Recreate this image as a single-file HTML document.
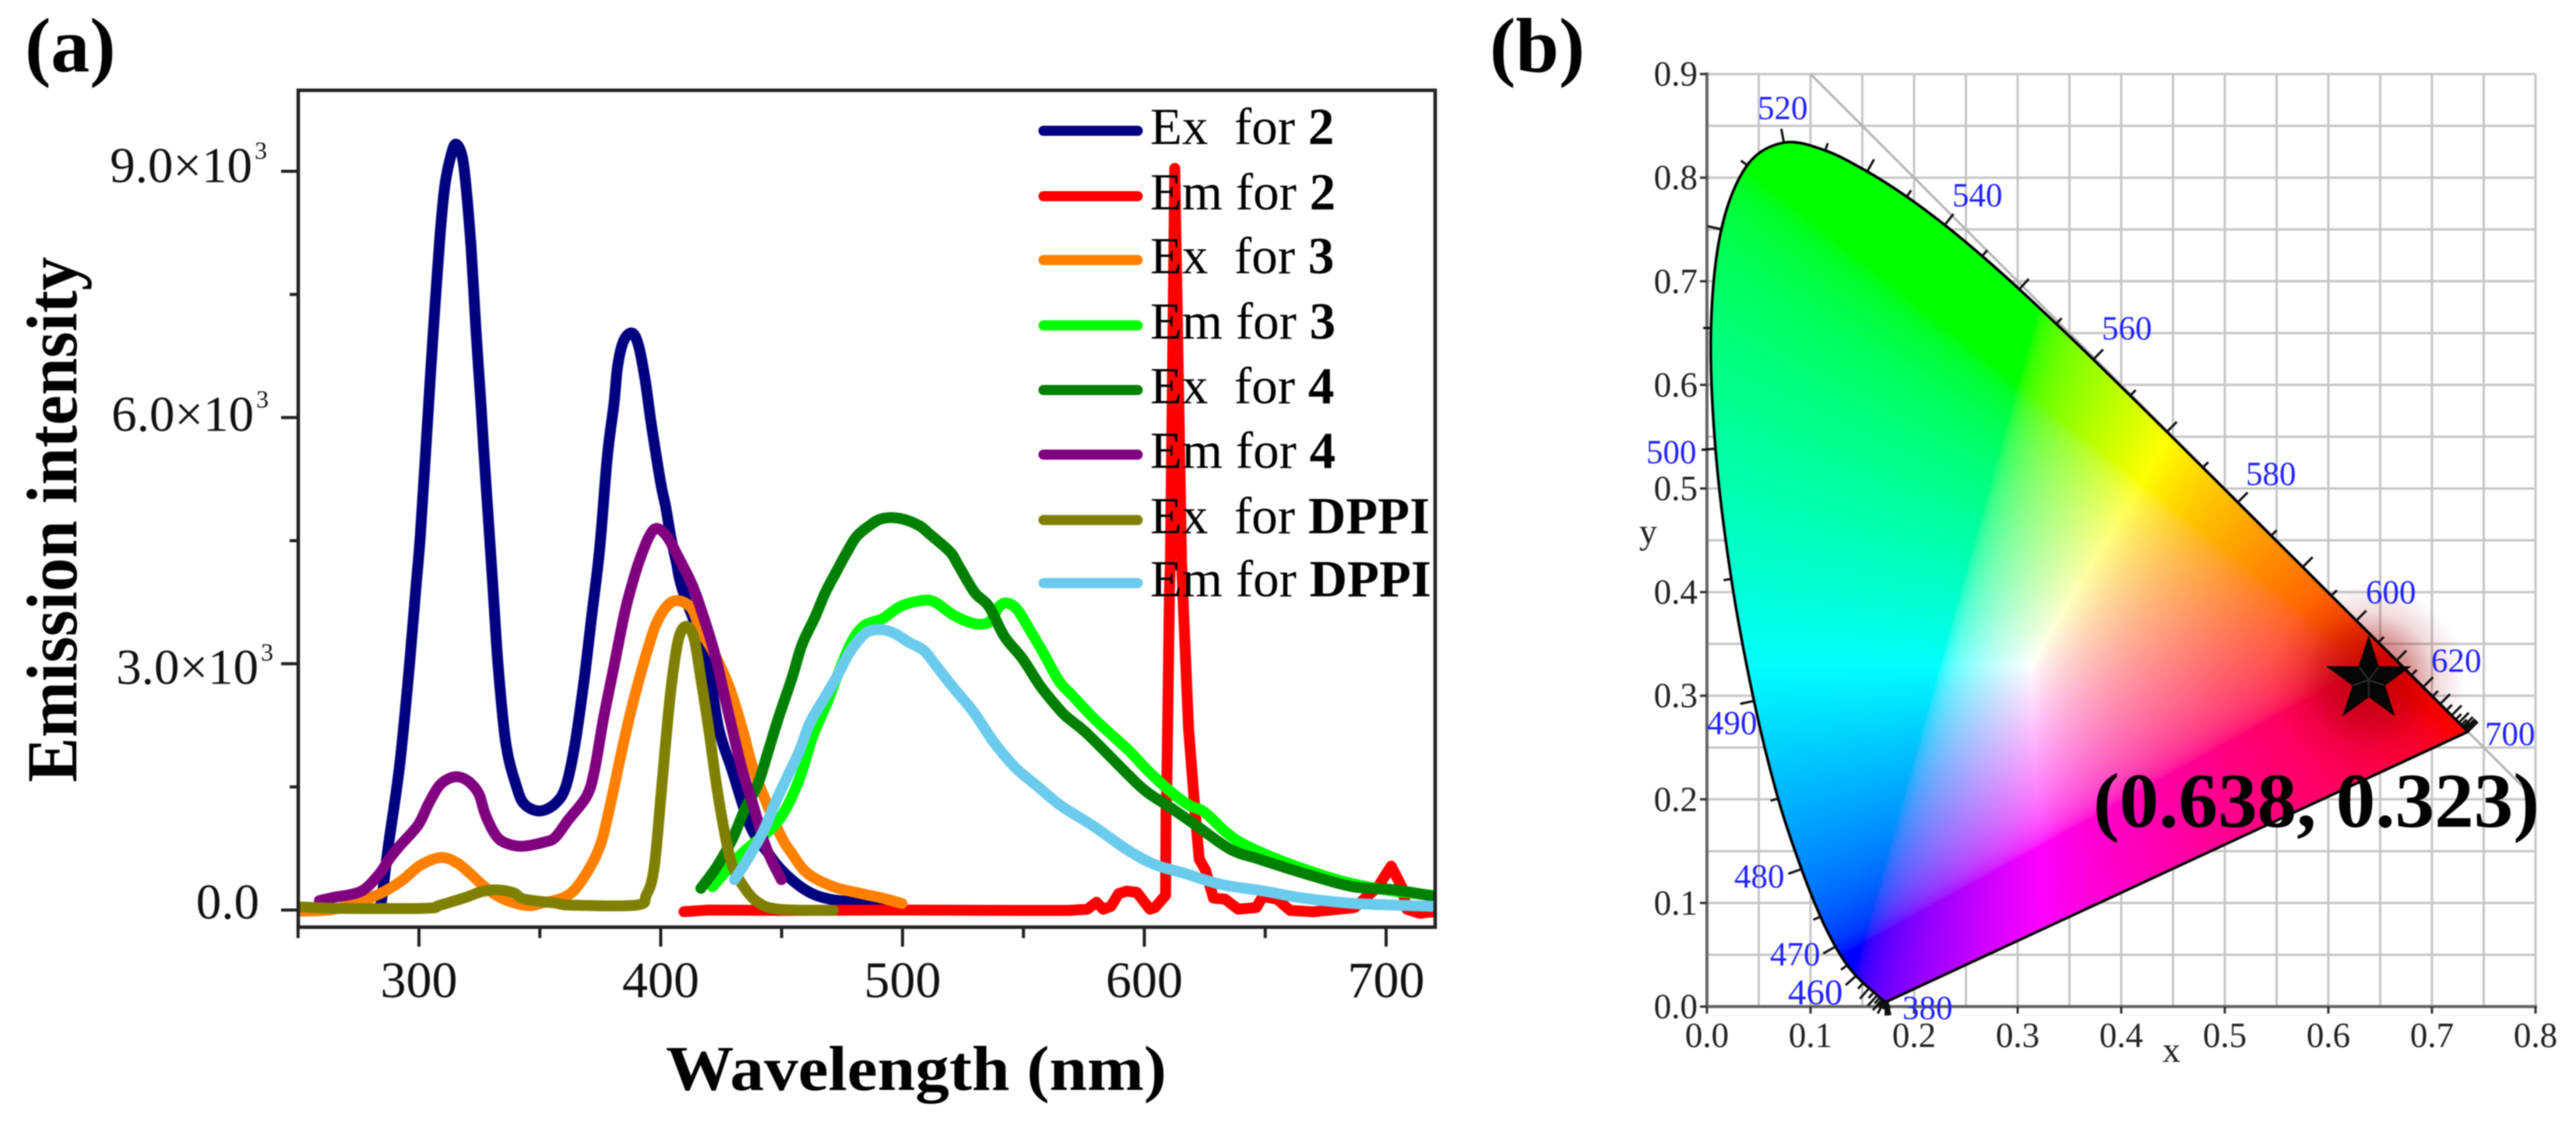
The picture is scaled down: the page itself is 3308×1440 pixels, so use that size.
<!DOCTYPE html>
<html lang="en">
<head>
<meta charset="utf-8">
<title>Excitation and emission spectra with CIE chromaticity diagram</title>
<style>
html,body{margin:0;padding:0;background:#fff;width:3308px;height:1440px;overflow:hidden}
#stage{position:relative;width:3308px;height:1440px;filter:blur(.7px)}
#stage svg,#stage canvas{position:absolute}
text{font-family:"Liberation Serif",serif;white-space:pre}
</style>
</head>
<body>
<div id="stage">
<svg id="panelA" width="3308" height="1440" viewBox="0 0 3308 1440" style="left:0;top:0">
  <defs><clipPath id="plotClip"><rect x="383" y="116" width="1460" height="1075"/></clipPath></defs>
  <text x="32" y="92" font-size="100" font-weight="bold">(a)</text>
  <g id="seriesLayer" clip-path="url(#plotClip)"></g>
  <rect x="383" y="116" width="1460" height="1075" fill="none" stroke="#222" stroke-width="4.5"/>
  <g id="axisA"></g>
  <text transform="translate(98,1005) rotate(-90)" font-size="92" font-weight="bold" textLength="675" lengthAdjust="spacingAndGlyphs">Emission intensity</text>
  <text x="855" y="1400" font-size="82" font-weight="bold" textLength="643" lengthAdjust="spacingAndGlyphs">Wavelength (nm)</text>
  <g font-size="67" fill="#000" stroke-linecap="round">
    <g><line x1="1340" x2="1461" y1="168" y2="168" stroke="#000080" stroke-width="13"/><text x="1477" y="185">Ex  for <tspan font-weight="bold">2</tspan></text></g>
    <g><line x1="1340" x2="1461" y1="252" y2="252" stroke="#ff0000" stroke-width="13"/><text x="1477" y="269">Em for <tspan font-weight="bold">2</tspan></text></g>
    <g><line x1="1340" x2="1461" y1="334" y2="334" stroke="#ff8000" stroke-width="13"/><text x="1477" y="351">Ex  for <tspan font-weight="bold">3</tspan></text></g>
    <g><line x1="1340" x2="1461" y1="418" y2="418" stroke="#00ff00" stroke-width="13"/><text x="1477" y="435">Em for <tspan font-weight="bold">3</tspan></text></g>
    <g><line x1="1340" x2="1461" y1="501" y2="501" stroke="#008000" stroke-width="13"/><text x="1477" y="518">Ex  for <tspan font-weight="bold">4</tspan></text></g>
    <g><line x1="1340" x2="1461" y1="584" y2="584" stroke="#800080" stroke-width="13"/><text x="1477" y="601">Em for <tspan font-weight="bold">4</tspan></text></g>
    <g><line x1="1340" x2="1461" y1="668" y2="668" stroke="#808000" stroke-width="13"/><text x="1477" y="685">Ex  for <tspan font-weight="bold">DPPI</tspan></text></g>
    <g><line x1="1340" x2="1461" y1="749" y2="749" stroke="#6acbec" stroke-width="13"/><text x="1477" y="766">Em for <tspan font-weight="bold">DPPI</tspan></text></g>
  </g>
  <text x="1913" y="92" font-size="100" font-weight="bold">(b)</text>
  <g id="gridB"></g>
  <text x="2777" y="1364" font-size="46" fill="#222">x</text>
  <text x="2105" y="698" font-size="46" fill="#222">y</text>
</svg>
<canvas id="gamut" width="1064" height="1199" style="left:2192px;top:94px"></canvas>
<svg id="panelB" width="3308" height="1440" viewBox="0 0 3308 1440" style="left:0;top:0">
  <defs>
    <radialGradient id="haloGrad">
      <stop offset="0" stop-color="#a00000" stop-opacity=".7"/>
      <stop offset=".45" stop-color="#a00000" stop-opacity=".4"/>
      <stop offset=".7" stop-color="#a00000" stop-opacity=".14"/>
      <stop offset="1" stop-color="#a00000" stop-opacity="0"/>
    </radialGradient>
  </defs>
  <g id="overlayB"></g>
  <g font-size="43" fill="#2222ff">
    <text x="2443" y="1309">380</text>
    <text x="2296" y="1290" font-size="47">460</text>
    <text x="2273" y="1240">470</text>
    <text x="2227" y="1140">480</text>
    <text x="2192" y="943">490</text>
    <text x="2114" y="595">500</text>
    <text x="2257" y="153">520</text>
    <text x="2507" y="265">540</text>
    <text x="2699" y="436">560</text>
    <text x="2884" y="623">580</text>
    <text x="3038" y="775">600</text>
    <text x="3122" y="863">620</text>
    <text x="3191" y="957">700</text>
  </g>
  <text x="2688" y="1062" font-size="100" font-weight="bold" textLength="573" lengthAdjust="spacingAndGlyphs">(0.638, 0.323)</text>
</svg>
</div>
<script>
/* ---------- Panel (a) data: wavelength (nm) and intensity ---------- */
const ex2Wave=[283,284.5,287.2,292,296,298.7,300.5,303,305.7,308.7,310.8,313.5,315.4,317.8,319.4,321.6,323.5,325.3,327,328.6,330.5,332.8,336,340.3,343.6,350,356.5,360.8,364.5,368.3,371.5,374.7,377.9,380.6,382.2,384.6,388.1,390.8,393.5,396.2,400,402,404.2,406.4,409,418.7,424,429.5,437,444.5,451,460.6,470.3,483,500];
const ex2Int=[20,115,750,1760,2960,3910,4540,5680,6945,8210,8840,9220,9330,9190,8840,8050,7100,6310,5520,4810,3975,2960,2015,1510,1290,1207,1300,1510,2015,2800,3595,4385,5520,6155,6630,6930,7030,6880,6470,5900,5200,4920,4540,4245,3905,3090,2210,1705,1025,690,455,230,130,95,30];
const em2Wave=[409.6,420,450,500,550,569,576.5,580.2,583,586.2,589.4,592.7,596.9,602.3,604.4,608.8,609,609.3,609.8,610.4,610.8,612.6,615.4,616.8,618.3,621,622.7,625.3,628.6,633.4,638.8,646.3,649,654.9,660.3,669.9,687,696.7,702.1,706.4,708.6,713.9,720];
const em2Int=[-20,0,-5,0,-5,-5,10,95,10,45,200,230,215,10,30,180,1195,1535,2550,3905,4240,9035,4240,3230,2212,1195,620,485,145,133,10,30,165,133,-5,-22,30,285,535,285,10,-40,-20];
const ex3Wave=[250,265,281.3,292,300.6,309.2,315.7,321,327.5,335,344.7,351,360.8,367.2,374.5,378.7,383.3,387.4,391.9,395.7,398.3,402.6,407,412.8,416.6,422,428.3,433.7,438,443.4,449.9,454.2,460.6,471.3,483,491.7,499.8];
const ex3Int=[-15,10,165,340,545,640,575,450,275,133,55,85,165,355,750,1225,1855,2393,2900,3280,3500,3705,3770,3675,3400,3130,2720,2212,1740,1330,890,690,450,285,200,145,80];
const em3Wave=[421.4,433.7,444.5,451,457.4,462.8,468.2,473.5,478.9,484.2,491.7,499.2,507.8,513.2,520.7,528.3,533.6,536.8,540,543.3,547.6,552.9,558.3,564.7,570,579.8,593.7,601.2,609.8,618.3,624.8,633.4,640.9,654.9,671,684.9,703.2,720];
const em3Int=[285,690,960,1195,1603,2110,2485,2890,3263,3465,3550,3700,3770,3755,3600,3500,3485,3535,3700,3740,3655,3400,3130,2790,2620,2315,1940,1705,1470,1280,1195,958,805,620,450,330,230,180];
const ex4Wave=[416.6,423,429.5,434.8,440.2,444.5,448.8,454.2,458.4,463.8,468.1,472.4,476.7,481,486.4,491.7,499.2,506.8,511,519.6,522.9,529.8,535.7,542.2,549.7,557.2,564.7,568,576.5,593.7,601.2,610.9,621.6,635.6,647.4,665.7,686,703.2,720];
const ex4Int=[265,520,857,1230,1535,1940,2350,2820,3230,3570,3870,4110,4345,4550,4685,4770,4770,4685,4585,4365,4210,3870,3700,3330,3060,2720,2450,2350,2145,1637,1435,1247,1027,740,620,450,285,247,165];
const em4Wave=[258.8,264,276,283.5,287.8,292,299.6,303.9,308.2,312.5,316.7,321,324.8,327.5,331.8,336,342.5,352.2,356.5,361.8,369.3,372.6,376.3,380.6,384.9,387.6,390.8,395,398.3,402.6,407,412.8,416.6,422,426.3,429.5,433.7,438,442.4,445.6,449.9];
const em4Int=[115,150,228,436,626,780,1034,1290,1508,1603,1620,1555,1413,1160,910,815,777,830,890,1100,1385,1700,2330,2960,3595,3910,4225,4540,4650,4550,4315,3975,3670,3160,2617,2212,1707,1300,857,620,370];
const exDppiWave=[250,267,302.8,308.2,318.9,326.4,332.9,339.3,343.6,356.5,362.9,389.8,394,397.3,400.5,403.7,406.4,408.5,411.2,413.9,416.6,419.8,423,426.3,429.5,434.3,440.2,448.8,471.3];
const exDppiInt=[40,20,22,55,150,228,245,208,133,85,60,60,180,520,1535,2550,3160,3400,3450,3297,2820,2212,1535,960,552,285,95,10,-5];
const emDppiWave=[430.5,435.9,442.4,447.7,453.1,457.4,461.7,467,472.4,477.8,483.1,486.4,491.7,497.1,502.5,508.9,514.3,520.7,529.3,537.9,546.5,556.1,565.8,578.7,593.7,604.4,616.3,631.3,649.6,665.7,687.1,720];
const emDppiInt=[370,620,960,1330,1670,1940,2280,2550,2820,3125,3330,3400,3415,3365,3263,3160,2960,2720,2415,2040,1740,1500,1265,1027,720,552,450,315,230,145,80,45];
const xTickValues=[300,400,500,600,700];
const xMinorValues=[250,350,450,550,650];
const yTickValues=[0,3000,6000,9000];
const yMinorValues=[1500,4500,7500];
const yTickLabels=["0.0","3.0×10","6.0×10","9.0×10"];

/* ---------- Panel (b) data: CIE 1931 spectral locus ---------- */
const locusWave=[380,385,390,395,400,405,410,415,420,425,430,435,440,445,450,455,460,465,470,475,480,485,490,495,500,505,510,515,520,525,530,535,540,545,550,555,560,565,570,575,580,585,590,595,600,605,610,615,620,625,630,635,640,645,650,655,660,665,670,675,680,685,690,695,700];
const locusX=[.1741,.1740,.1738,.1736,.1733,.1730,.1726,.1721,.1714,.1703,.1689,.1669,.1644,.1611,.1566,.1510,.1440,.1355,.1241,.1096,.0913,.0687,.0454,.0235,.0082,.0039,.0139,.0389,.0743,.1142,.1547,.1929,.2296,.2658,.3016,.3373,.3731,.4087,.4441,.4788,.5125,.5448,.5752,.6029,.6270,.6482,.6658,.6801,.6915,.7006,.7079,.7140,.7190,.7230,.7260,.7283,.7300,.7311,.7320,.7327,.7334,.7340,.7344,.7346,.7347];
const locusY=[.0050,.0050,.0049,.0049,.0048,.0048,.0048,.0048,.0051,.0058,.0069,.0086,.0109,.0138,.0177,.0227,.0297,.0399,.0578,.0868,.1327,.2007,.2950,.4127,.5384,.6548,.7502,.8120,.8338,.8262,.8059,.7816,.7543,.7243,.6923,.6589,.6245,.5896,.5547,.5202,.4866,.4544,.4242,.3965,.3725,.3514,.3340,.3197,.3083,.2993,.2920,.2859,.2809,.2770,.2740,.2717,.2700,.2689,.2680,.2673,.2666,.2660,.2656,.2654,.2653];
const bXTicks=["0.0","0.1","0.2","0.3","0.4","0.5","0.6","0.7","0.8"];
const bYTicks=["0.0","0.1","0.2","0.3","0.4","0.5","0.6","0.7","0.8","0.9"];
const starX=[0.639];
const starY=[0.315];

/* ---------- Axis functions ---------- */
const NS='http://www.w3.org/2000/svg';
function xA(w){return 538+(w-300)*3.105}
function yA(v){return 1169-v*0.10544}
function xB(x){return 2192+x*1330}
function yB(y){return 1293-y*1331}
function mk(tag,attrs,parent){const e=document.createElementNS(NS,tag);for(const k in attrs)e.setAttribute(k,attrs[k]);parent.appendChild(e);return e}

function smoothPath(pts){
  let d='M'+pts[0][0].toFixed(1)+' '+pts[0][1].toFixed(1);
  for(let i=0;i<pts.length-1;i++){
    const p0=pts[Math.max(i-1,0)],p1=pts[i],p2=pts[i+1],p3=pts[Math.min(i+2,pts.length-1)];
    const c1=[p1[0]+(p2[0]-p0[0])/6,p1[1]+(p2[1]-p0[1])/6];
    const c2=[p2[0]-(p3[0]-p1[0])/6,p2[1]-(p3[1]-p1[1])/6];
    d+='C'+c1[0].toFixed(1)+' '+c1[1].toFixed(1)+' '+c2[0].toFixed(1)+' '+c2[1].toFixed(1)+' '+p2[0].toFixed(1)+' '+p2[1].toFixed(1);
  }
  return d;
}
function linearPath(pts){return 'M'+pts.map(p=>p[0].toFixed(1)+' '+p[1].toFixed(1)).join('L')}

/* ---------- Panel (a) drawing ---------- */
function drawSeries(name,wave,intensity,color,smooth){
  const pts=wave.map((w,i)=>[xA(w),yA(intensity[i])]);
  const line=mk('path',{d:smooth?smoothPath(pts):linearPath(pts),fill:'none',stroke:color,'stroke-width':14,'stroke-linejoin':'round','stroke-linecap':'round'},document.getElementById('seriesLayer'));
  
  
}
drawSeries('line-ex-2',ex2Wave,ex2Int,'#000080',true);
drawSeries('line-em-2',em2Wave,em2Int,'#ff0000',false);
drawSeries('line-ex-3',ex3Wave,ex3Int,'#ff8000',true);
drawSeries('line-em-3',em3Wave,em3Int,'#00ff00',true);
drawSeries('line-ex-4',ex4Wave,ex4Int,'#008000',true);
drawSeries('line-em-4',em4Wave,em4Int,'#800080',true);
drawSeries('line-ex-dppi',exDppiWave,exDppiInt,'#808000',true);
drawSeries('line-em-dppi',emDppiWave,emDppiInt,'#6acbec',true);

const axisA=document.getElementById('axisA');
xTickValues.forEach(w=>{
  const t=mk('line',{x1:xA(w),x2:xA(w),y1:1191,y2:1216,stroke:'#222','stroke-width':4},axisA);
  
  
  const l=mk('text',{x:xA(w),y:1281,'font-size':66,'text-anchor':'middle',fill:'#111'},axisA);
  l.textContent=String(w);
  
  
});
xMinorValues.forEach(w=>{
  const t=mk('line',{x1:xA(w),x2:xA(w),y1:1191,y2:1205,stroke:'#222','stroke-width':4},axisA);
  
  
});
const yNudgeBase=[11,26,17,14];
const yNudgeEnd=[333,332,326,324];
yTickValues.forEach((v,i)=>{
  const t=mk('line',{x1:361,x2:383,y1:yA(v),y2:yA(v),stroke:'#222','stroke-width':4},axisA);
  
  
  const l=mk('text',{x:yNudgeEnd[i],y:yA(v)+yNudgeBase[i],'font-size':65,'text-anchor':'end',fill:'#111'},axisA);
  l.textContent=yTickLabels[i];
  
  
  if(i>0){
    const s=mk('text',{x:yNudgeEnd[i]+3,y:yA(v)+yNudgeBase[i]-30,'font-size':32,fill:'#111'},axisA);
    s.textContent='3';
    
    
  }
});
yMinorValues.forEach(v=>{
  const t=mk('line',{x1:372,x2:383,y1:yA(v),y2:yA(v),stroke:'#222','stroke-width':4},axisA);
  
  
});

/* ---------- Panel (b) grid and axes ---------- */
const gridB=document.getElementById('gridB');
for(let i=1;i<=16;i++){
  const g=mk('line',{x1:xB(i*0.05),x2:xB(i*0.05),y1:yB(0),y2:yB(0.9),stroke:'#c6c6c6','stroke-width':3},gridB);
  
  
}
for(let i=1;i<=18;i++){
  const g=mk('line',{x1:xB(0),x2:xB(0.8),y1:yB(i*0.05),y2:yB(i*0.05),stroke:'#c6c6c6','stroke-width':3},gridB);
  
  
}
const diag=mk('line',{x1:xB(0.1),y1:yB(0.9),x2:xB(0.794),y2:yB(0.206),stroke:'#b4b4b4','stroke-width':3},gridB);


const axLeft=mk('line',{x1:xB(0),x2:xB(0),y1:yB(0.9)-2,y2:yB(0)+2,stroke:'#666','stroke-width':4},gridB);


const axBottom=mk('line',{x1:xB(0)-2,x2:xB(0.8)+2,y1:yB(0),y2:yB(0),stroke:'#666','stroke-width':4},gridB);


bXTicks.forEach(s=>{
  const v=parseFloat(s);
  const t=mk('line',{x1:xB(v),x2:xB(v),y1:yB(0),y2:yB(0)+9,stroke:'#333','stroke-width':3},gridB);
  
  
  const l=mk('text',{x:xB(v),y:1345,'font-size':45,'text-anchor':'middle',fill:'#222'},gridB);
  l.textContent=s;
  
  
});
bYTicks.forEach(s=>{
  const v=parseFloat(s);
  const t=mk('line',{x1:xB(0)-9,x2:xB(0),y1:yB(v),y2:yB(v),stroke:'#333','stroke-width':3},gridB);
  
  
  const l=mk('text',{x:2180,y:yB(v)+15,'font-size':45,'text-anchor':'end',fill:'#222'},gridB);
  l.textContent=s;
  
  
});

/* ---------- Smooth locus outline, shared by the gamut clip and the stroke ---------- */
const locusPath=smoothPath(locusWave.map((w,i)=>[xB(locusX[i]),yB(locusY[i])]))+'Z';

/* ---------- Gamut fill: xy -> linear sRGB, clipped and normalised ---------- */
(function(){
  const cv=document.getElementById('gamut'),ctx=cv.getContext('2d');
  const W=cv.width,H=cv.height,off=document.createElement('canvas');
  off.width=W;off.height=H;
  const oc=off.getContext('2d'),img=oc.createImageData(W,H),d=img.data;
  const gam=c=>c<=0.0031308?12.92*c:1.055*Math.pow(c,1/2.4)-0.055;
  for(let py=0;py<H;py++){
    const y=Math.max((yB(0)-(94+py+0.5))/1331,0.001);
    for(let px=0;px<W;px++){
      const x=(px+0.5)/1330,X=x/y,Z=(1-x-y)/y;
      let r=3.2406*X-1.5372-0.4986*Z,g=-0.9689*X+1.8758+0.0415*Z,b=0.0557*X-0.2040+1.0570*Z;
      r=Math.max(r,0);g=Math.max(g,0);b=Math.max(b,0);
      const m=Math.max(r,g,b,1e-6),i=(py*W+px)*4;
      d[i]=255*gam(r/m);d[i+1]=255*gam(g/m);d[i+2]=255*gam(b/m);d[i+3]=255;
    }
  }
  oc.putImageData(img,0,0);
  ctx.save();
  ctx.translate(-2192,-94);
  ctx.clip(new Path2D(locusPath));
  ctx.translate(2192,94);
  ctx.drawImage(off,0,0);
  ctx.restore();
})();

/* ---------- Locus outline, wavelength ticks, marker ---------- */
const overlay=document.getElementById('overlayB');
const sx=xB(starX[0]),sy=yB(starY[0]);
const halo=mk('circle',{cx:sx,cy:sy,r:125,fill:'url(#haloGrad)'},overlay);


const locusLine=mk('path',{d:locusPath,fill:'none',stroke:'#000','stroke-width':3.5,'stroke-linejoin':'round'},overlay);


locusWave.forEach((w,i)=>{
  const a=Math.max(i-1,0),b=Math.min(i+1,locusWave.length-1);
  let tx=xB(locusX[b])-xB(locusX[a]),ty=yB(locusY[b])-yB(locusY[a]);
  const n=Math.hypot(tx,ty)||1;tx/=n;ty/=n;
  let nx=ty,ny=-tx;
  const px=xB(locusX[i]),py=yB(locusY[i]);
  if(nx*(px-xB(0.33))+ny*(py-yB(0.33))<0){nx=-nx;ny=-ny}
  const len=(w%10===0)?18:10;
  const t=mk('line',{x1:px,y1:py,x2:px+nx*len,y2:py+ny*len,stroke:'#111','stroke-width':3},overlay);
  
  
});
(function(){
  const R=56,pts=[],inner=[];
  for(let k=0;k<10;k++){
    const r=k%2?R*0.38:R,ang=-Math.PI/2+k*Math.PI/5,p=[sx+r*Math.cos(ang),sy+r*Math.sin(ang)];
    pts.push(p[0].toFixed(1)+','+p[1].toFixed(1));
    if(k%2)inner.push(p);
  }
  const st=mk('polygon',{points:pts.join(' '),fill:'#050505',stroke:'#000','stroke-width':1},overlay);
  
  
  inner.forEach(p=>{
    const f=mk('line',{x1:sx,y1:sy,x2:p[0],y2:p[1],stroke:'#2c2c2c','stroke-width':2},overlay);
    
    
  });
})();
</script>
</body>
</html>
